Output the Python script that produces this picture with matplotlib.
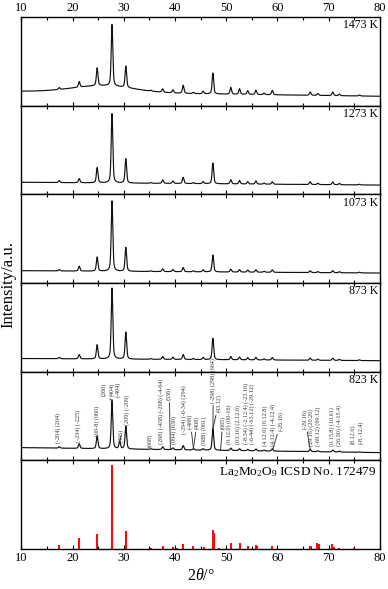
import numpy as np
import matplotlib
matplotlib.use("Agg")
import matplotlib.pyplot as plt
from matplotlib.ticker import MultipleLocator
import matplotlib.transforms as mtransforms

plt.rcParams['font.family'] = ['Liberation Serif', 'DejaVu Serif']
plt.rcParams['mathtext.fontset'] = 'custom'
plt.rcParams['mathtext.rm'] = 'Liberation Serif'
plt.rcParams['mathtext.it'] = 'Liberation Serif:italic'

# peak positions (2theta, deg)
peak_pos = [17.4, 21.3, 24.8, 27.7, 29.2, 30.4, 35.3, 37.6, 39.6, 41.6, 43.6, 45.5,
            47.4, 50.9, 52.6, 54.2, 55.8, 57.4, 59.0, 66.4, 67.9, 70.8, 72.1, 76.0]

# relative peak heights per temperature (main peak = 100)
h_1473 = [3, 9, 29, 100, 0, 35, 1.5, 5.5, 5, 13, 2, 4, 34, 11, 9, 6, 7, 2.5, 7, 5.5, 3, 6, 2.5, 1.5]
h_1273 = [3, 6, 22, 100, 0, 35, 1, 5, 3.5, 9, 1.5, 3, 30, 6, 5, 3.5, 4.5, 1.5, 3.5, 4, 2, 4, 2, 1]
h_1073 = [2, 7, 20, 100, 0, 34, 1, 4, 3, 6, 1.5, 3, 24, 4, 3.5, 3, 3.5, 1.5, 3.5, 2.5, 1.5, 3, 1.5, 1]
h_873 = [2, 6, 20, 100, 0, 38, 1, 4, 3, 7, 1.5, 3, 30, 4.5, 4, 3, 3.5, 1.5, 3.5, 3, 1.5, 3, 1.5, 1]
h_823 = [3, 10, 27, 100, 15, 48, 1.5, 6, 4, 9, 3, 3, 45, 5, 4, 3, 4, 2, 5, 5, 2, 4, 2, 1]

# background: value at 10 deg, value at 80 deg, amorphous hump (height, centre, width)
bg_1473 = (8, 0, 11, 26, 6)
bg_1273 = (4, 0, 0, 25, 6)
bg_1073 = (3.3, 0, 0, 25, 6)
bg_873 = (3, 0, 0, 25, 6)
bg_823 = (10.6, 0, 0, 25, 6)

temps = ['1473 K', '1273 K', '1073 K', '873 K', '823 K']

# reference card La2Mo2O9, ICSD No. 172479
ref_pos = [17.4, 21.3, 24.8, 27.7, 27.75, 30.4, 35.3, 37.6, 39.6, 40.3, 41.6, 43.6, 45.6,
           47.4, 47.6, 48.5, 50.9, 52.6, 54.2, 55.8, 56.0, 59.0, 66.4, 66.6, 67.8, 68.1,
           70.7, 71.0, 72.1, 75.0]
ref_int = [5, 12.6, 18, 100, 45, 21, 1, 4, 2.5, 1.5, 6, 4, 2.5,
           22, 19, 1, 7.5, 7, 3, 5, 4, 4, 3, 3, 7, 6,
           6, 2, 1.5, 1]

# hkl labels on the 823 K pattern: text, x, bottom of text (axes fraction), leader target
hkl = [
    ('(-204) (204)', 17.2, 0.20, None),
    ('(-234) (-225)', 21.0, 0.21, None),
    ('(00-8) (060)', 24.7, 0.27, None),
    ('(260)', 26.2, 0.72, 27.7),
    ('(404)', 27.7, 0.72, 27.7),
    ('(-404)', 28.8, 0.71, 27.7),
    ('(405)', 29.5, 0.21, 29.2),
    ('(209) (-209)', 30.6, 0.40, None),
    ('(668)', 35.0, 0.155, None),
    ('(268) (-438) (-268) (-4-64)', 37.3, 0.18, None),
    ('(536)', 38.9, 0.68, 39.1),
    ('(094) (630)', 39.9, 0.18, None),
    ('(-294) (-6-34) (294)', 41.7, 0.30, None),
    ('(-468)', 43.0, 0.35, 43.6),
    ('(408)', 44.3, 0.35, 43.6),
    ('(088) (061)', 45.6, 0.17, None),
    ('(-298) (298) (664)', 47.5, 0.65, 47.4),
    ('(43.12)', 48.5, 0.54, 47.4),
    ('(665)', 49.3, 0.35, 48.9),
    ('(0.12.0) (00-16)', 50.5, 0.18, None),
    ('(03.16) (2.12.0)', 52.4, 0.18, None),
    ('(-8.34) (-2.12.4) (-23.16)', 53.8, 0.18, None),
    ('(-6-44) (-63.12) (-29.12)', 55.1, 0.18, None),
    ('(4.12.0) (0.12.8)', 57.6, 0.16, None),
    ('(4.12.4) (-4.12.4)', 59.1, 0.16, None),
    ('(-26.16)', 60.7, 0.325, 59.1),
    ('(-29.16)', 65.4, 0.35, 66.4),
    ('(29.16) (20.20)', 66.6, 0.16, None),
    ('(-69.12) (69.12)', 67.9, 0.16, None),
    ('(0.15.8) (10.61)', 70.7, 0.16, None),
    ('(26.30) (-4-15.4)', 72.1, 0.16, None),
    ('(8.12.0)', 74.8, 0.18, None),
    ('(-8.-12.4)', 76.2, 0.18, None),
]

x = np.arange(10, 80.0001, 0.02)


def pattern(hts, bg, fwhm=0.36):
    left, right, hh, hc, hw = bg
    y = left + (right - left) * (x - 10) / 70 + hh * np.exp(-0.5 * ((x - hc) / hw) ** 2)
    g = fwhm / 2.3548
    for p, h in zip(peak_pos, hts):
        lor = 1 / (1 + ((x - p) / (fwhm / 2)) ** 2)
        gau = np.exp(-0.5 * ((x - p) / g) ** 2)
        y = y + h * (0.5 * lor + 0.5 * gau)
    return y


series = [(h_1473, bg_1473), (h_1273, bg_1273), (h_1073, bg_1073), (h_873, bg_873), (h_823, bg_823)]
ylims = [(-15.4, 128.8), (-13.4, 114.4), (-14.2, 111.8), (-15.5, 109.4), (-16.4, 172.3)]

fig = plt.figure(figsize=(3.88, 5.89), dpi=100)
axes = fig.subplots(6, 1, sharex=True)
fig.subplots_adjust(left=0.055, right=0.979, top=0.971, bottom=0.068, hspace=0)

for i, ax in enumerate(axes[:5]):
    hts, bg = series[i]
    y = pattern(hts, bg)
    ax.plot(x, y, color='#111111', lw=0.85)
    ax.set_ylim(*ylims[i])
    ax.text(0.995, 0.975, temps[i], transform=ax.transAxes, ha='right', va='top', fontsize=8.5)

# reference sticks
axr = axes[5]
axr.vlines(ref_pos, 0, ref_int, color='#ee1111', lw=1.5)
axr.set_ylim(0, 105.6)
axr.text(0.99, 0.95, r'La$_2$Mo$_2$O$_9$ ICSD No. 172479', transform=axr.transAxes,
         ha='right', va='top', fontsize=9.5)

# hkl labels on 823 K
ax = axes[4]
y823 = pattern(h_823, bg_823)
trans = mtransforms.blended_transform_factory(ax.transData, ax.transAxes)
for txt, tx, ty, target in hkl:
    if target is None:
        ax.text(tx, ty, txt, transform=trans, rotation=90, ha='center', va='bottom',
                fontsize=4.4, color='#333333')
    else:
        ty_peak = np.interp(target, x, y823)
        ax.annotate(txt, xy=(target, ty_peak), xycoords='data', xytext=(tx, ty), textcoords=trans,
                    rotation=90, ha='center', va='bottom', fontsize=4.4, color='#333333',
                    arrowprops=dict(arrowstyle='-', lw=0.6, color='#222222', shrinkA=0, shrinkB=0))

for i, ax in enumerate(axes):
    ax.set_xlim(10, 80)
    ax.set_yticks([])
    ax.xaxis.set_major_locator(MultipleLocator(10))
    ax.xaxis.set_minor_locator(MultipleLocator(5))
    ax.tick_params(axis='x', which='major', direction='in', top=True, bottom=True, length=3, width=0.8,
                   labelbottom=(i == 5), labeltop=(i == 0), labelsize=9, pad=2)
    ax.tick_params(axis='x', which='minor', direction='in', top=True, bottom=True, length=2, width=0.8)
    for s in ax.spines.values():
        s.set_linewidth(1.0)

fig.text(0.022, 1 - 284 / 589, 'Intensity/a.u.', rotation=90, ha='center', va='center', fontsize=12)
fig.text(0.517, 0.022, r'2$\it{\theta}$/°', ha='center', va='center', fontsize=11.5)

plt.savefig('out.png', dpi=100)
